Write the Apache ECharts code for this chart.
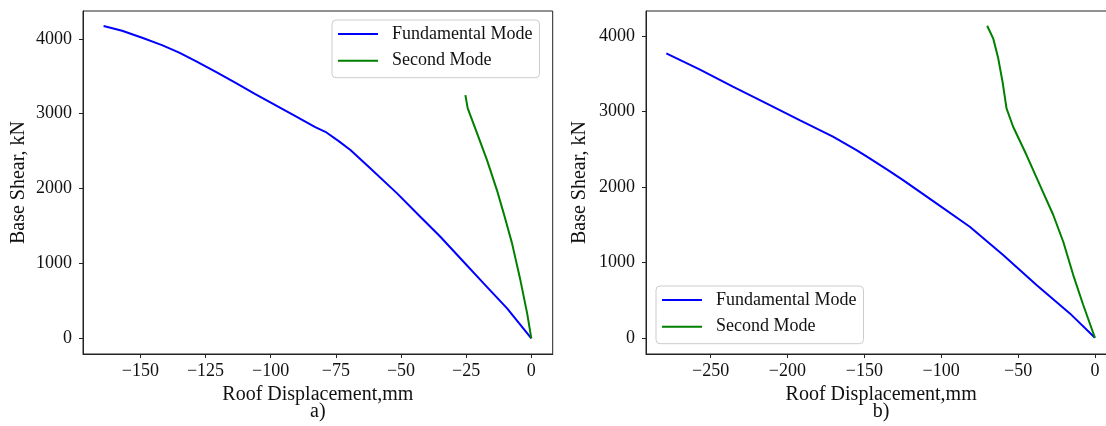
<!DOCTYPE html>
<html>
<head>
<meta charset="utf-8">
<script src="https://cdn.jsdelivr.net/npm/echarts@6/dist/echarts.min.js"></script>
<style>
html,body{margin:0;padding:0;background:#fff;}
#chart{width:1106px;height:426px;}
</style>
</head>
<body>
<div id="chart"></div>
<script>
// ---- Data ----
// Panel a)
const aFundX = [-164.1,-157.0,-149.3,-141.7,-135.3,-128.9,-121.2,-113.6,-105.9,-98.2,-90.5,-82.9,-79.0,-73.9,-69.4,-61.8,-51.5,-42.6,-34.9,-26.0,-18.3,-9.3,0];
const aFundY = [4170,4107,4013,3916,3818,3706,3560,3413,3262,3115,2968,2821,2758,2634,2514,2270,1936,1624,1356,1023,734,401,0];
const aSecX  = [-25.3,-24.4,-20.8,-17.0,-13.2,-10.6,-7.4,-4.2,-1.6,0];
const aSecY  = [3248,3071,2737,2380,1980,1669,1268,778,334,0];
// Panel b)
const bFundX = [-278.8,-257.2,-235.5,-213.7,-192.1,-170.4,-155.1,-146.5,-134.6,-124.8,-103.1,-81.4,-59.7,-38.0,-16.3,0];
const bFundY = [3770,3558,3328,3108,2886,2665,2488,2378,2223,2090,1782,1472,1096,699,323,0];
const bSecX  = [-70.1,-66.2,-62.9,-60.1,-57.5,-53.2,-44.5,-35.8,-27.1,-20.6,-14.1,-7.6,0];
const bSecY  = [4136,3969,3704,3394,3041,2797,2422,2024,1627,1273,831,434,0];
// Tick labels
const aXTicks = [-150,-125,-100,-75,-50,-25,0];
const bXTicks = [-250,-200,-150,-100,-50,0];
const yTicks  = [0,1000,2000,3000,4000];
const seriesNames = ['Fundamental Mode','Second Mode'];
const xTitles = ['Roof Displacement,mm\na)','Roof Displacement,mm\nb)'];
const yTitle = 'Base Shear, kN';

const zip = (xs, ys) => xs.map((x, i) => [x, ys[i]]);
const FONT = 'Liberation Serif';
const DARK = '#222';
const fmt = v => (v < 0 ? '\u2212' + (-v) : String(v));

function xAxis(gi, min, max, ticks, title) {
  return {
    type: 'value', gridIndex: gi, min: min, max: max,
    splitLine: {show: false},
    axisLine: {show: true, onZero: false, lineStyle: {color: DARK, width: 1}},
    axisTick: {show: true, length: 4, customValues: ticks, lineStyle: {color: DARK}},
    axisLabel: {customValues: ticks, formatter: fmt, margin: 8, color: '#111',
      fontFamily: FONT, fontSize: 18},
    name: title, nameLocation: 'middle', nameGap: 26,
    nameTextStyle: {fontFamily: FONT, fontSize: 20, color: '#111', lineHeight: 17, align: 'center'}
  };
}
function yAxis(gi, min, max, gap) {
  return {
    type: 'value', gridIndex: gi, min: min, max: max,
    splitLine: {show: false},
    axisLine: {show: true, onZero: false, lineStyle: {color: DARK, width: 1}},
    axisTick: {show: true, length: 4, customValues: yTicks, lineStyle: {color: DARK}},
    axisLabel: {customValues: yTicks, formatter: fmt, margin: 11, color: '#111',
      fontFamily: FONT, fontSize: 18},
    name: yTitle, nameLocation: 'middle', nameGap: gap,
    nameTextStyle: {fontFamily: FONT, fontSize: 20, color: '#111', lineHeight: 22}
  };
}
function legend(left, top) {
  return {
    data: seriesNames, orient: 'vertical', left: left, top: top,
    icon: 'rect', itemWidth: 40, itemHeight: 2, itemGap: 6.7,
    padding: [4, 7, 7, 6],
    borderColor: '#cccccc', borderWidth: 1, borderRadius: 4, backgroundColor: '#fff',
    textStyle: {fontFamily: FONT, fontSize: 18, color: '#111', lineHeight: 20, padding: [0, 0, 0, 9]}
  };
}
function line(name, data, color, xi) {
  return {
    type: 'line', name: name, data: data, xAxisIndex: xi, yAxisIndex: xi,
    showSymbol: false, symbol: 'none', smooth: false, animation: false,
    lineStyle: {color: color, width: 2}, itemStyle: {color: color}
  };
}

const chart = echarts.init(document.getElementById('chart'), null, {renderer: 'canvas'});
chart.setOption({
  backgroundColor: '#fff',
  animation: false,
  grid: [
    {left: 83, top: 11, width: 469.7, height: 343, show: true, borderColor: DARK, borderWidth: 1, containLabel: false, outerBoundsMode: 'none'},
    {left: 646, top: 11, width: 470.3, height: 343, show: true, borderColor: DARK, borderWidth: 1, containLabel: false, outerBoundsMode: 'none'}
  ],
  legend: [legend(332, 20), legend(656, 286)],
  xAxis: [xAxis(0, -172, 8.2, aXTicks, xTitles[0]), xAxis(1, -292, 13.9, bXTicks, xTitles[1])],
  yAxis: [yAxis(0, -209, 4371, 53), yAxis(1, -215, 4331, 55)],
  series: [
    line(seriesNames[0], zip(aFundX, aFundY), '#0000ff', 0),
    line(seriesNames[1], zip(aSecX, aSecY), '#008000', 0),
    line(seriesNames[0], zip(bFundX, bFundY), '#0000ff', 1),
    line(seriesNames[1], zip(bSecX, bSecY), '#008000', 1)
  ]
});
</script>
</body>
</html>
